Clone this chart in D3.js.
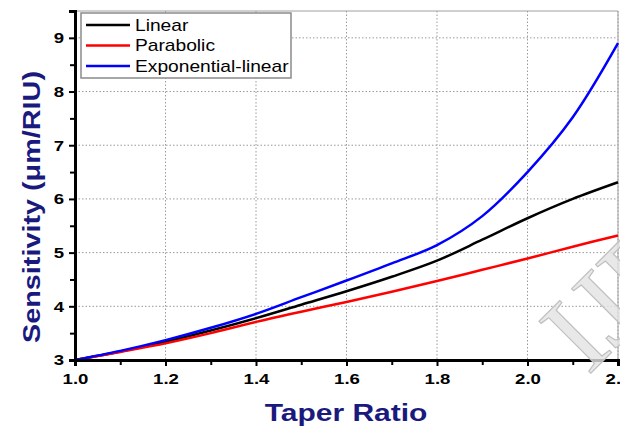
<!DOCTYPE html>
<html>
<head>
<meta charset="utf-8">
<script src="https://cdn.jsdelivr.net/npm/d3@7"></script>
<style>
  html, body { margin: 0; padding: 0; background: #fff; }
  svg { display: block; font-family: "Liberation Sans", Arial, sans-serif; }
</style>
</head>
<body>
<svg id="chart" width="620" height="430"></svg>
<script>
// --- 1. DATA ---
const taperRatio = [1.0, 1.1, 1.2, 1.3, 1.4, 1.5, 1.6, 1.7, 1.8, 1.9, 2.0, 2.1, 2.2];
const linearVals = [3.0, 3.16, 3.34, 3.55, 3.78, 4.03, 4.28, 4.55, 4.85, 5.24, 5.64, 6.00, 6.31];
const parabolicVals = [3.0, 3.15, 3.31, 3.50, 3.71, 3.90, 4.08, 4.27, 4.47, 4.68, 4.89, 5.11, 5.32];
const expLinearVals = [3.0, 3.17, 3.37, 3.60, 3.86, 4.17, 4.48, 4.80, 5.14, 5.68, 6.50, 7.52, 8.90];

const seriesNames = ["Linear", "Parabolic", "Exponential-linear"];
const seriesColors = ["#000000", "#ff0000", "#0000ff"];
const seriesValues = [linearVals, parabolicVals, expLinearVals];

const xTicks = [1.0, 1.2, 1.4, 1.6, 1.8, 2.0, 2.2];
const xMinor = [1.1, 1.3, 1.5, 1.7, 1.9, 2.1];
const yTicks = [3, 4, 5, 6, 7, 8, 9];
const yMinor = [3.5, 4.5, 5.5, 6.5, 7.5, 8.5, 9.5];

const xTitle = "Taper Ratio";
const yTitle = "Sensitivity (\u03bcm/RIU)";
const watermark = "IJE";

// --- 2. SETUP ---
const plotLeft = 75, plotRight = 618, plotTop = 11, plotBottom = 360;
const stretch = 1.2; // text in the picture is a little wide
const titleColor = "#1a1a7e";

const svg = d3.select("#chart");

const x = d3.scaleLinear().domain([1.0, 2.2]).range([plotLeft, plotRight]);
const y = d3.scaleLinear().domain([3, 9.5]).range([plotBottom, plotTop]);

// --- 3. GRID + FRAME ---
const grid = svg.append("g")
    .attr("stroke", "#9a9a9a")
    .attr("stroke-width", 1)
    .attr("stroke-dasharray", "1.5,2");

grid.selectAll("line.gx")
    .data(xTicks.slice(1))
    .enter().append("line")
    .attr("class", "gx")
    .attr("x1", d => x(d)).attr("x2", d => x(d))
    .attr("y1", plotTop).attr("y2", plotBottom);

grid.selectAll("line.gy")
    .data(yTicks.slice(1))
    .enter().append("line")
    .attr("class", "gy")
    .attr("x1", plotLeft).attr("x2", plotRight)
    .attr("y1", d => y(d)).attr("y2", d => y(d));

// thin grey frame on top and right
svg.append("path")
    .attr("d", `M${plotLeft},${plotTop}H${plotRight}V${plotBottom}`)
    .attr("fill", "none")
    .attr("stroke", "#a0a0a0")
    .attr("stroke-width", 1);

// --- 4. CURVES ---
const line = d3.line()
    .x(d => x(d[0]))
    .y(d => y(d[1]))
    .curve(d3.curveCatmullRom.alpha(0.5));

seriesValues.forEach((vals, i) => {
    svg.append("path")
        .datum(taperRatio.map((t, j) => [t, vals[j]]))
        .attr("fill", "none")
        .attr("stroke", seriesColors[i])
        .attr("stroke-width", 2.5)
        .attr("d", line);
});

// --- 5. AXES ---
const xAxis = svg.append("g")
    .attr("transform", `translate(0,${plotBottom})`)
    .call(d3.axisBottom(x).tickValues(xTicks).tickSize(6).tickFormat(d3.format(".1f")));

const yAxis = svg.append("g")
    .attr("transform", `translate(${plotLeft},0)`)
    .call(d3.axisLeft(y).tickValues(yTicks).tickSize(6).tickFormat(d3.format("d")));

// minor ticks
svg.append("g")
    .attr("transform", `translate(0,${plotBottom})`)
    .call(d3.axisBottom(x).tickValues(xMinor).tickSize(5).tickFormat(""))
    .call(g => g.select(".domain").remove());

svg.append("g")
    .attr("transform", `translate(${plotLeft},0)`)
    .call(d3.axisLeft(y).tickValues(yMinor).tickSize(5).tickFormat(""))
    .call(g => g.select(".domain").remove());

svg.selectAll(".tick line").attr("stroke", "#000").attr("stroke-width", 2);
[xAxis, yAxis].forEach(a => {
    a.select(".domain")
        .attr("stroke", "#000")
        .attr("stroke-width", 3);
    a.selectAll("text")
        .attr("fill", "#000")
        .attr("font-size", 15.5)
        .attr("font-weight", "bold")
        .attr("font-family", "Liberation Sans, Arial, sans-serif");
});

xAxis.selectAll("text")
    .attr("y", 24)
    .attr("dy", "0")
    .attr("transform", `scale(${stretch},1)`);

yAxis.selectAll("text")
    .attr("x", -11 / stretch)
    .attr("transform", `scale(${stretch},1)`);

// --- 6. TITLES ---
svg.append("text")
    .attr("transform", `translate(346,421) scale(${stretch + 0.05},1)`)
    .attr("text-anchor", "middle")
    .attr("font-size", 24)
    .attr("font-weight", "bold")
    .attr("fill", titleColor)
    .text(xTitle);

svg.append("text")
    .attr("transform", `translate(40,207) rotate(-90) scale(${stretch},1)`)
    .attr("text-anchor", "middle")
    .attr("font-size", 24)
    .attr("font-weight", "bold")
    .attr("fill", titleColor)
    .text(yTitle);

// --- 7. LEGEND ---
const legend = svg.append("g");

legend.append("rect")
    .attr("x", 81).attr("y", 13)
    .attr("width", 210).attr("height", 65)
    .attr("fill", "#fff")
    .attr("stroke", "#8a8a8a")
    .attr("stroke-width", 1.5);

seriesNames.forEach((name, i) => {
    const ly = 25 + i * 20.5;
    legend.append("line")
        .attr("x1", 86).attr("x2", 130)
        .attr("y1", ly).attr("y2", ly)
        .attr("stroke", seriesColors[i])
        .attr("stroke-width", 2.5);
    legend.append("text")
        .attr("transform", `translate(135,${ly}) scale(${stretch},1)`)
        .attr("dy", "0.35em")
        .attr("font-size", 16)
        .attr("fill", "#000")
        .text(name);
});

// --- 8. WATERMARK (cut off at the right edge, like the source) ---
svg.append("text")
    .attr("transform", "translate(588,376) rotate(-45)")
    .attr("font-family", "Liberation Serif, DejaVu Serif, serif")
    .attr("font-size", 112)
    .attr("fill", "#e2e2e2")
    .attr("fill-opacity", 0.8)
    .attr("stroke", "#c0c0c0")
    .attr("stroke-width", 1.2)
    .text(watermark);
</script>
</body>
</html>
